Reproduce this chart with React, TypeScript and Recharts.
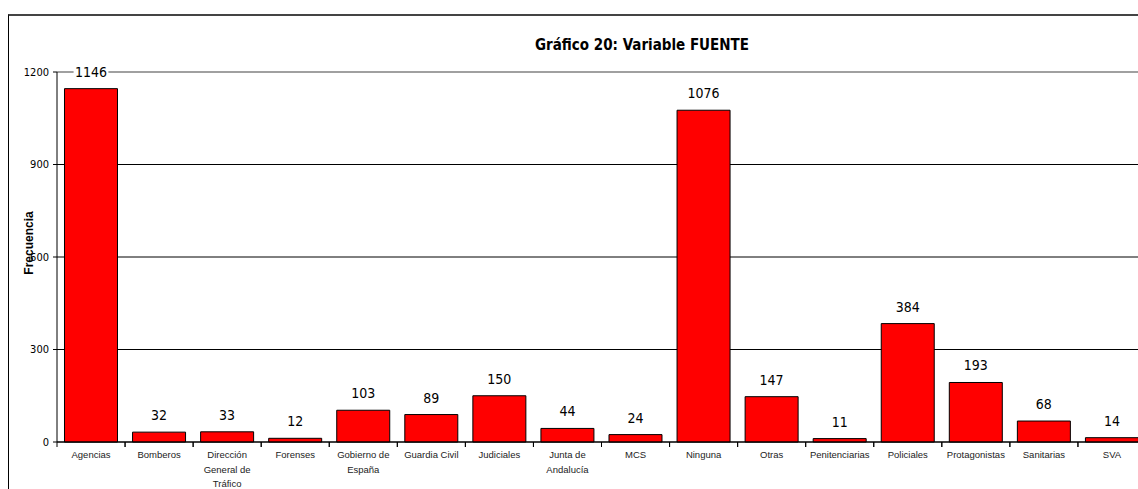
import React from 'react';
import { BarChart, Bar, XAxis, YAxis, CartesianGrid, LabelList } from 'recharts';

const categories = [
  'Agencias', 'Bomberos', 'Dirección General de Tráfico', 'Forenses', 'Gobierno de España',
  'Guardia Civil', 'Judiciales', 'Junta de Andalucía', 'MCS', 'Ninguna', 'Otras',
  'Penitenciarias', 'Policiales', 'Protagonistas', 'Sanitarias', 'SVA',
];
const frecuencia = [1146, 32, 33, 12, 103, 89, 150, 44, 24, 1076, 147, 11, 384, 193, 68, 14];
const yTicks = [0, 300, 600, 900, 1200];

const data = categories.map((name, i) => ({ name, value: frecuencia[i] }));

const condensed = '"DejaVu Sans Condensed", "DejaVu Sans", sans-serif';

function wrap(label: string, max = 13) {
  const lines: string[] = [];
  let cur = '';
  label.split(' ').forEach((w) => {
    const next = cur ? cur + ' ' + w : w;
    if (next.length > max && cur) {
      lines.push(cur);
      cur = w;
    } else {
      cur = next;
    }
  });
  if (cur) lines.push(cur);
  return lines;
}

function CategoryTick(props: any) {
  const { x, y, payload } = props;
  const half = payload.offset || 34;
  const lines = wrap(payload.value);
  return (
    <g>
      <line x1={x - half} x2={x - half} y1={y} y2={y + 5} stroke="#000" />
      <line x1={x + half} x2={x + half} y1={y} y2={y + 5} stroke="#000" />
      <text x={x} y={y + 16} textAnchor="middle" fontSize={9.5} fill="#222"
        fontFamily='"Liberation Sans", Arial, sans-serif'>
        {lines.map((l, i) => (
          <tspan key={i} x={x} dy={i === 0 ? 0 : 14.5}>{l}</tspan>
        ))}
      </text>
    </g>
  );
}

function ValueLabel(props: any) {
  const { x, y, width, value } = props;
  const cx = x + width / 2;
  const w = String(value).length * 7.2 + 6;
  return (
    <g>
      <rect x={cx - w / 2} y={y - 26} width={w} height={18} fill="#fff" />
      <text x={cx} y={y - 12} textAnchor="middle" fontSize={14} fill="#000" fontFamily={condensed}>
        {value}
      </text>
    </g>
  );
}

function AxisTitle(props: any) {
  const { viewBox } = props;
  const cx = viewBox.x + 29;
  const cy = viewBox.y + viewBox.height / 2 - 14;
  return (
    <text x={cx} y={cy} transform={`rotate(-90 ${cx} ${cy})`} textAnchor="middle"
      dominantBaseline="central" fontSize={12} fontWeight="bold" fill="#000"
      fontFamily='"Liberation Sans", Arial, sans-serif'>
      Frecuencia
    </text>
  );
}

// top gridline (1200) is grey in the original, the rest are black
function GridLine(props: any) {
  const { x1, x2, y1, y2 } = props;
  const isTop = y1 < 76;
  return (
    <line x1={x1} x2={x2} y1={y1} y2={y2}
      stroke={isTop ? '#a0a0a0' : '#000'} strokeWidth={isTop ? 2 : 1} />
  );
}

export default function App() {
  return (
    <div style={{ position: 'fixed', left: 0, top: 0, width: 1138, height: 489, overflow: 'hidden', background: '#fff' }}>
      <div style={{
        position: 'absolute', left: 8, top: 14, width: 1300, height: 600,
        borderLeft: '1px solid #000', borderTop: '2px solid #444', boxSizing: 'border-box',
      }} />
      <div style={{
        position: 'absolute', left: 0, top: 36, width: 1284, textAlign: 'center',
        fontFamily: condensed, fontWeight: 'bold', fontSize: 15, color: '#000',
      }}>
        Gráfico 20: Variable FUENTE
      </div>
      <div style={{ position: 'absolute', left: 0, top: 0 }}>
        <BarChart
          width={1240}
          height={489}
          data={data}
          margin={{ top: 72, right: 94, left: 0, bottom: 7 }}
          barCategoryGap="11%"
        >
          <CartesianGrid vertical={false} stroke="#000" horizontal={(p: any) => <GridLine key={p.key} {...p} />} />
          <XAxis
            dataKey="name"
            interval={0}
            height={40}
            tickLine={false}
            tickSize={0}
            tickMargin={0}
            axisLine={{ stroke: '#000' }}
            tick={<CategoryTick />}
          />
          <YAxis
            width={57}
            domain={[0, 1200]}
            ticks={yTicks}
            interval={0}
            tickSize={4}
            tickMargin={4}
            axisLine={{ stroke: '#000' }}
            tickLine={{ stroke: '#000' }}
            tick={{ fontSize: 11, fill: '#000', fontFamily: condensed }}
            label={<AxisTitle />}
          />
          <Bar dataKey="value" fill="#ff0000" stroke="#000" strokeWidth={1} isAnimationActive={false}>
            <LabelList dataKey="value" content={<ValueLabel />} />
          </Bar>
        </BarChart>
      </div>
    </div>
  );
}
